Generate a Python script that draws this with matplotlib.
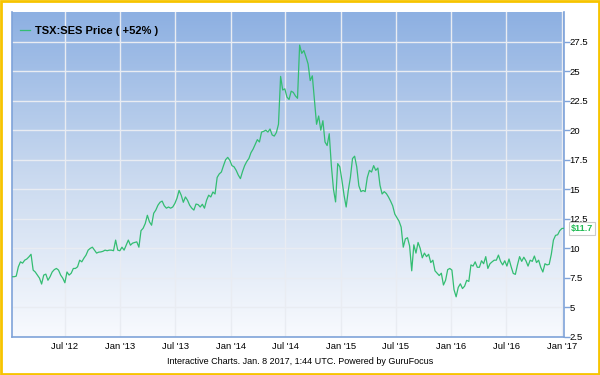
import numpy as np
import pandas as pd
import matplotlib
matplotlib.use("Agg")
import matplotlib.pyplot as plt
from matplotlib.patches import Rectangle
from matplotlib.colors import LinearSegmentedColormap

plt.rcParams['font.family'] = ['Liberation Sans', 'DejaVu Sans']

# ---- data (weekly closes) ----
start_date = "2012-01-08"
prices = [
    7.6, 7.6, 7.65, 8.44, 8.86, 8.75, 9.0, 9.1, 9.28, 9.5,
    8.16, 8.0, 7.74, 7.48, 6.98, 7.74, 7.82, 7.3, 7.6, 8.0,
    8.2, 8.3, 8.16, 7.74, 7.48, 7.09, 8.0, 7.74, 7.9, 8.3,
    8.3, 8.44, 9.0, 8.86, 9.17, 9.43, 9.85, 10.0, 10.1, 9.85,
    9.6, 9.68, 9.7, 9.75, 9.85, 9.8, 9.85, 9.85, 9.8, 10.7,
    9.85, 9.8, 10.1, 9.85, 10.27, 10.7, 10.27, 10.44, 10.5, 10.55,
    10.1, 11.5, 11.7, 12.1, 12.8, 12.24, 11.96, 12.97, 13.24, 13.65,
    13.9, 14.0, 13.6, 13.4, 13.5, 13.4, 13.5, 13.8, 14.24, 14.9,
    14.5, 13.9, 14.35, 14.07, 13.65, 13.4, 13.24, 13.75, 13.7, 13.5,
    13.73, 13.4, 14.07, 14.5, 14.35, 14.77, 14.6, 16.0, 16.3, 16.46,
    17.0, 17.5, 17.7, 17.45, 17.0, 16.9, 16.6, 16.2, 15.9, 16.5,
    17.0, 17.35, 17.6, 18.1, 18.4, 18.8, 19.2, 19.0, 19.84, 19.9,
    20.0, 19.84, 20.1, 19.6, 19.5, 19.8, 20.5, 24.55, 23.4, 23.5,
    22.8, 22.6, 23.3, 23.2, 22.9, 22.7, 27.2, 26.5, 26.74, 26.2,
    25.6, 24.2, 24.6, 22.6, 20.5, 21.2, 20.0, 20.8, 19.0, 18.7,
    19.7, 17.0, 15.0, 13.93, 17.17, 16.9, 15.76, 14.5, 13.5, 14.9,
    16.0, 17.6, 17.8, 16.9, 15.3, 14.8, 14.9, 14.8, 16.0, 16.6,
    16.46, 17.0, 16.6, 16.8, 15.34, 14.6, 14.8, 14.64, 14.35, 14.0,
    13.6, 12.9, 12.6, 12.3, 11.8, 10.1, 10.8, 10.9, 10.2, 8.1,
    10.3, 9.6, 10.5, 10.0, 9.2, 9.6, 9.3, 9.5, 8.8, 9.0,
    8.1, 7.9, 7.7, 7.9, 6.9, 7.3, 8.2, 8.3, 8.16, 6.5,
    5.9, 6.7, 7.0, 6.6, 6.8, 7.3, 7.2, 8.6, 8.5, 8.86,
    8.4, 8.4, 8.95, 8.7, 9.3, 8.3, 8.7, 8.86, 9.0, 9.0,
    9.43, 8.9, 8.6, 8.95, 8.5, 9.1, 8.45, 7.88, 7.8, 8.6,
    9.3, 8.9, 9.25, 8.95, 8.5, 9.0, 8.9, 9.35, 8.8, 9.0,
    8.4, 8.0, 8.7, 8.6, 8.65, 9.5, 10.7, 11.1, 11.15, 11.5,
    11.68, 11.7,
]
series_label = "TSX:SES Price ( +52% )"
y_ticks = [2.5, 5, 7.5, 10, 12.5, 15, 17.5, 20, 22.5, 25, 27.5]
y_tick_labels = ["2.5", "5", "7.5", "10", "12.5", "15", "17.5", "20", "22.5", "25", "27.5"]
x_ticks = ["2012-07-01", "2013-01-01", "2013-07-01", "2014-01-01", "2014-07-01",
           "2015-01-01", "2015-07-01", "2016-01-01", "2016-07-01", "2017-01-01"]
x_tick_labels = ["Jul '12", "Jan '13", "Jul '13", "Jan '14", "Jul '14",
                 "Jan '15", "Jul '15", "Jan '16", "Jul '16", "Jan '17"]
footer = "Interactive Charts. Jan. 8 2017, 1:44 UTC. Powered by GuruFocus"
x_range = ["2012-01-08", "2017-01-08"]
y_range = [2.5, 30]

dates = pd.date_range(start_date, periods=len(prices), freq="7D")

fig = plt.figure(figsize=(6, 3.75), dpi=100)
fig.patch.set_facecolor("white")
ax = fig.add_axes([12/600, 38/375, 552/600, 325/375])

# gradient background
grad = np.linspace(0, 1, 256).reshape(-1, 1)
cmap = LinearSegmentedColormap.from_list("bg", ["#f8fafe", "#c9d9ef", "#8db0e2"])
ax.imshow(grad, aspect="auto", cmap=cmap, origin="lower",
          extent=[0, 1, 0, 1], transform=ax.transAxes, zorder=0)

line_color = "#33bd72"
ax.plot(dates, prices, color=line_color, lw=0.9, zorder=3, label=series_label)

ax.set_xlim(pd.Timestamp(x_range[0]), pd.Timestamp(x_range[1]))
ax.set_ylim(*y_range)

ax.set_xticks([pd.Timestamp(d) for d in x_ticks])
ax.set_xticklabels(x_tick_labels, fontsize=6.8)
ax.set_yticks(y_ticks)
ax.set_yticklabels(y_tick_labels, fontsize=6.8)
ax.yaxis.tick_right()
ax.tick_params(axis="y", direction="out", length=4, width=1, color="#7fa3d9", pad=0)
ax.tick_params(axis="x", length=0, pad=3.5)

ax.grid(True, color="#e9ecf2", lw=1, zorder=1)
for s in ["left", "bottom", "right"]:
    ax.spines[s].set_color("#7fa3d9")
    ax.spines[s].set_linewidth(1.2)
ax.spines["top"].set_visible(False)

ax.legend(loc="upper left", frameon=False, handlelength=0.9, handletextpad=0.5,
          prop={"weight": "bold", "size": 8}, borderaxespad=0.3,
          bbox_to_anchor=(0.0, 0.98))

# last price label
last = prices[-1]
ax.annotate(f"${last:.1f}", xy=(dates[-1], last), xytext=(5, 0),
            textcoords="offset points", fontsize=6.5, color="#22bb55", weight="bold",
            va="center", ha="left", annotation_clip=False,
            bbox=dict(boxstyle="square,pad=0.25", fc="white", ec="#cccccc", lw=0.8))

fig.text(0.5, (375 - 361) / 375, footer, ha="center", va="center", fontsize=6.5)

fig.patches.append(Rectangle((0.002, 0.003), 0.996, 0.994, transform=fig.transFigure,
                             fill=False, ec="#f7c400", lw=2))

fig.savefig("out.png", dpi=100)
